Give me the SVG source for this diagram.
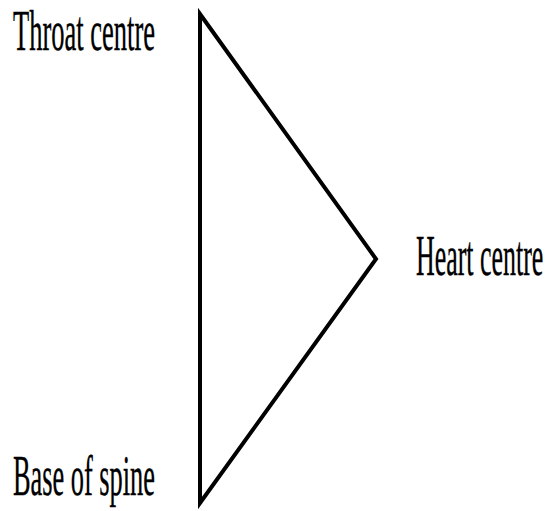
<svg xmlns="http://www.w3.org/2000/svg" width="550" height="511" viewBox="0 0 550 511">
<style>
.lbl{font-family:"Liberation Serif","Times New Roman",serif;font-size:57px;fill:#000;stroke:#000;stroke-width:0.4}
.edge{fill:none;stroke:#000;stroke-width:4;stroke-linejoin:miter}
</style>
<rect width="550" height="511" fill="#fff"/>
<g id="connectors">
<polygon class="edge" points="200,14 376,259 200,503"/>
</g>
<g id="throat"><text class="lbl" transform="translate(13,50) scale(0.465,1)">Throat centre</text></g>
<g id="heart"><text class="lbl" transform="translate(416,275) scale(0.455,1)">Heart centre</text></g>
<g id="base"><text class="lbl" transform="translate(13,495) scale(0.4625,1)">Base of spine</text></g>
</svg>
